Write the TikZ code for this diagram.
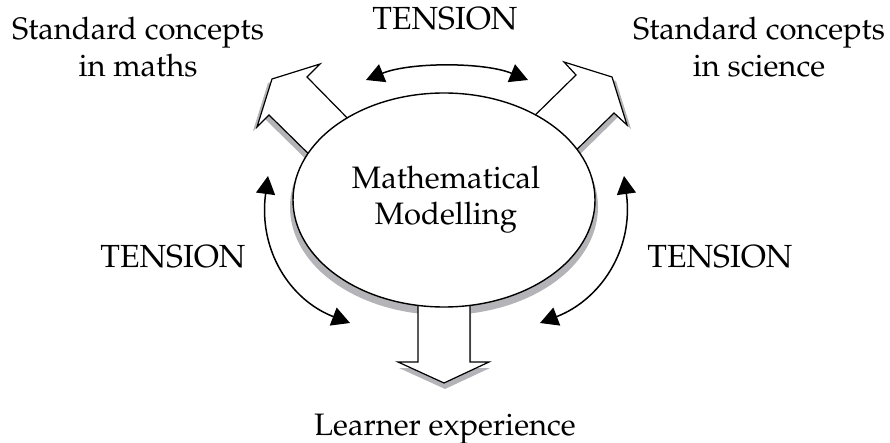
\documentclass[tikz,border=0pt]{standalone}
\usepackage[T1]{fontenc}
\usepackage{mathpazo}
\usetikzlibrary{arrows.meta,shapes.geometric}
\definecolor{shadowgray}{RGB}{180,180,184}
\begin{document}
\begin{tikzpicture}[x=1pt,y=-1pt,
  blockarrow/.style={draw=black, fill=white, line width=1.2pt, line join=miter},
  shadowfill/.style={fill=shadowgray},
  tensionarc/.style={line width=1.5pt, {Triangle[length=18pt,width=19pt]}-{Triangle[length=18pt,width=19pt]}},
  bigtext/.style={font=\fontsize{31}{37}\selectfont, align=center, inner sep=0pt},
  midtext/.style={font=\fontsize{31}{36}\selectfont, align=center, inner sep=0pt},
  tentext/.style={font=\fontsize{32}{38}\selectfont, inner sep=0pt}]
\useasboundingbox (0,0) rectangle (890,443);
% ellipse shadow
\fill[shadowfill] (444,207) ellipse [x radius=154pt, y radius=108pt];
% arrow shadows
\fill[shadowfill, shift={(-4,4)}] (362,133) -- (307,77) -- (320,64) -- (272,79) -- (257,127) -- (269,115) -- (323,168) -- cycle;
\fill[shadowfill, shift={(4,4)}] (522,128) -- (576,75) -- (564,62) -- (612,77) -- (627,125) -- (614,113) -- (563,163) -- cycle;
\fill[shadowfill, shift={(1,6)}] (418,280) -- (418,362) -- (398,362) -- (444,383) -- (489,362) -- (470,362) -- (470,280) -- cycle;
% block arrows
\draw[blockarrow] (362,133) -- (307,77) -- (320,64) -- (272,79) -- (257,127) -- (269,115) -- (323,168) -- cycle;
\draw[blockarrow] (522,128) -- (576,75) -- (564,62) -- (612,77) -- (627,125) -- (614,113) -- (563,163) -- cycle;
\draw[blockarrow] (418,280) -- (418,362) -- (398,362) -- (444,383) -- (489,362) -- (470,362) -- (470,280) -- cycle;
% ellipse
\node[ellipse, draw, fill=white, line width=1.4pt, minimum width=302pt, minimum height=214pt, inner sep=0pt] (mm) at (444,200) {};
\node[midtext, anchor=base] (mmt) at (446,225) {Mathematical\\Modelling};
% tension arcs
\coordinate (tl) at (366,80);
\coordinate (tr) at (528,80);
\coordinate (lt) at (268,176);
\coordinate (lb) at (350,323);
\coordinate (rt) at (624,176);
\coordinate (rb) at (540,323);
\draw[tensionarc] (tl) .. controls (410,62) and (484,62) .. (tr);
\draw[tensionarc] (lt) .. controls (258,250) and (290,300) .. (lb);
\draw[tensionarc] (rt) .. controls (634,250) and (600,300) .. (rb);
% labels
\node[bigtext, anchor=base] (sm) at (138,77) {Standard concepts\\in maths};
\node[bigtext, anchor=base] (ss) at (759,77) {Standard concepts\\in science};
\node[bigtext, anchor=base] (le) at (445,435) {Learner experience};
\node[tentext, anchor=base] (t1) at (445,30) {TENSION};
\node[tentext, anchor=base] (t2) at (173,268) {TENSION};
\node[tentext, anchor=base] (t3) at (720,268) {TENSION};
\end{tikzpicture}
\end{document}
